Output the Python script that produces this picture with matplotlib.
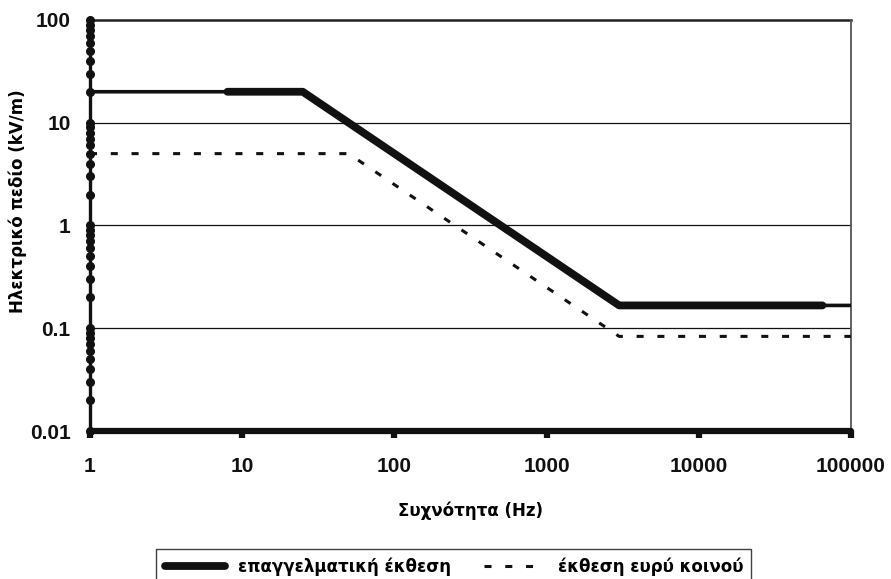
import numpy as np
import matplotlib
matplotlib.use("Agg")
import matplotlib.pyplot as plt

plt.rcParams['font.family'] = ['Liberation Sans', 'DejaVu Sans']

# ICNIRP reference levels for the electric field (kV/m)
freq_occ = [1, 8, 25, 3000, 65000, 100000]
field_occ = [20, 20, 20, 0.1667, 0.1667, 0.1667]
freq_pub = [1, 50, 3000, 100000]
field_pub = [5, 5, 0.0833, 0.0833]

y_major = [0.01, 0.1, 1, 10, 100]
y_labels = ["0.01", "0.1", "1", "10", "100"]
x_major = [1, 10, 100, 1000, 10000, 100000]
x_labels = ["1", "10", "100", "1000", "10000", "100000"]

label_occ = "επαγγελματική έκθεση"
label_pub = "έκθεση ευρύ κοινού"

fig = plt.figure(figsize=(8.91, 5.79), dpi=100)
ax = fig.add_axes([0.101, 0.2556, 0.854, 0.71])
ax.set_xscale("log")
ax.set_yscale("log")
ax.set_xlim(1, 100000)
ax.set_ylim(0.01, 100)

# horizontal grid at the decades
for yv in y_major[1:-1]:
    ax.axhline(yv, color="#111111", lw=0.9, zorder=1)
ax.axhline(100, color="#222222", lw=1.8, zorder=1, clip_on=False)

# thin full-range line plus heavy middle segment for the occupational limit
ax.plot(freq_occ, field_occ, color="#111111", lw=2.6, solid_capstyle="round",
        solid_joinstyle="round", zorder=3)
ax.plot(freq_occ[1:5], field_occ[1:5], color="#111111", lw=5.6,
        solid_capstyle="round", solid_joinstyle="round", zorder=3)
ax.plot(freq_pub, field_pub, color="#111111", lw=2.2,
        linestyle=(0, (2.3, 4.5)), zorder=3)

# spines
ax.spines["top"].set_visible(False)
ax.spines["right"].set_color("#555555")
ax.spines["right"].set_linewidth(1.3)
ax.spines["left"].set_color("#111111")
ax.spines["left"].set_linewidth(2.4)
ax.spines["bottom"].set_color("#111111")
ax.spines["bottom"].set_linewidth(4.5)
ax.spines["bottom"].set_capstyle("round")

# y ticks drawn as round dots along the axis
ax.yaxis.set_minor_locator(matplotlib.ticker.NullLocator())
ax.set_yticks(y_major)
ax.set_yticklabels(y_labels)
ax.tick_params(axis="y", length=0, pad=14, labelsize=15)
dots = [m * 10.0 ** e for e in range(-2, 2) for m in range(1, 10)] + [100]
ax.plot([1] * len(dots), dots, "o", color="#111111", ms=5.5, clip_on=False, zorder=5)

ax.xaxis.set_minor_locator(matplotlib.ticker.NullLocator())
ax.set_xticks(x_major)
ax.set_xticklabels(x_labels)
ax.tick_params(axis="x", length=5, width=4.5, color="#111111", pad=14, labelsize=15)

for lab in ax.get_xticklabels() + ax.get_yticklabels():
    lab.set_fontweight("bold")
    lab.set_color("#111111")

lab_font = {"family": ["DejaVu Sans"], "weight": "bold", "size": 12}
ax.set_xlabel("Συχνότητα (Hz)", fontdict=lab_font, labelpad=18)
ax.set_ylabel("Ηλεκτρικό πεδίο (kV/m)", fontdict=lab_font)
ax.yaxis.set_label_coords(-0.083, 0.56)

# legend sits at the bottom, partly outside the canvas
h1, = ax.plot([], [], color="#111111", lw=5.6, solid_capstyle="round")
h2, = ax.plot([], [], color="#111111", lw=2.2, linestyle=(0, (2.3, 4.5)))
leg = fig.legend([h1, h2], [label_occ, label_pub], ncol=2, loc="upper left",
                 bbox_to_anchor=(0.166, 0.066), frameon=True, fancybox=False,
                 edgecolor="#111111", handlelength=3.6, columnspacing=2.0,
                 borderpad=0.5, prop={"family": ["DejaVu Sans"], "weight": "bold", "size": 12})
leg.get_frame().set_linewidth(1.0)

fig.savefig("out.png", dpi=100)
